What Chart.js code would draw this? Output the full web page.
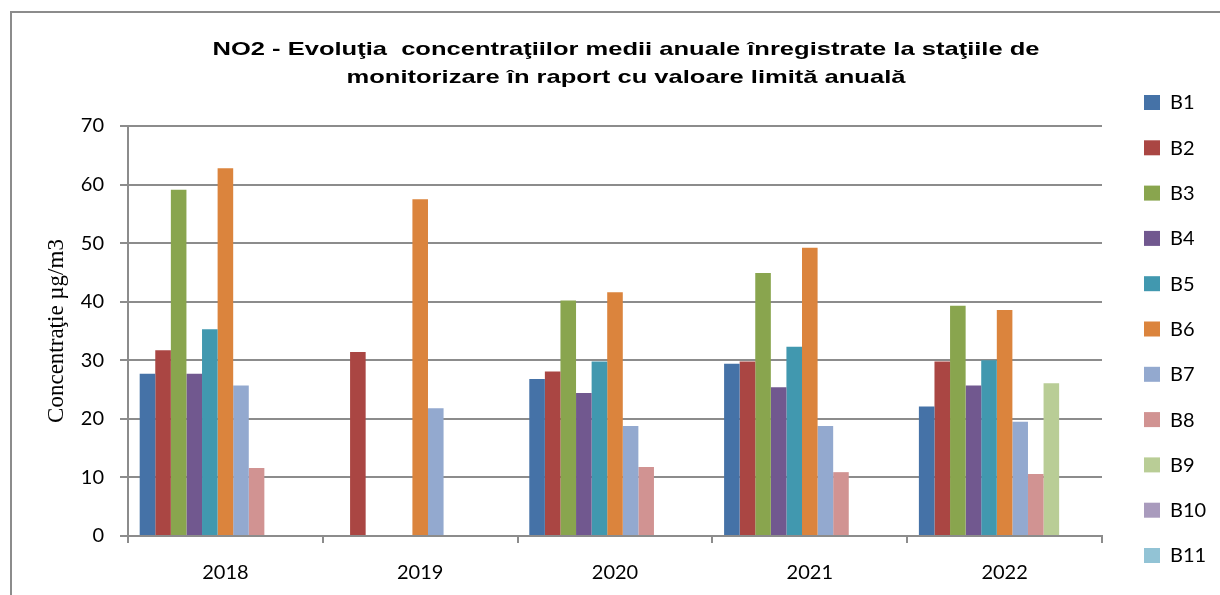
<!DOCTYPE html>
<html>
<head>
<meta charset="utf-8">
<script src="https://cdn.jsdelivr.net/npm/chart.js@4"></script>
<style>
  html, body { margin:0; padding:0; background:#fff; }
  #wrap { position:relative; width:1220px; height:595px; overflow:hidden; }
  #frame { position:absolute; left:10px; top:11px; width:1300px; height:700px; border-left:2px solid #8c8c8c; border-top:2px solid #8c8c8c; }
  canvas { position:absolute; left:0; top:0; }
</style>
</head>
<body>
<div id="wrap">
  <div id="frame"></div>
  <canvas id="c" width="1220" height="595"></canvas>
</div>
<script>
// ---- data ----
const categories = ['2018', '2019', '2020', '2021', '2022'];
const seriesNames = ['B1','B2','B3','B4','B5','B6','B7','B8','B9','B10','B11'];
const B1  = [27.7, null, 26.8, 29.4, 22.1];
const B2  = [31.7, 31.4, 28.1, 29.8, 29.8];
const B3  = [59.1, null, 40.2, 44.9, 39.3];
const B4  = [27.7, null, 24.4, 25.4, 25.7];
const B5  = [35.3, null, 29.8, 32.3, 30.0];
const B6  = [62.8, 57.5, 41.6, 49.2, 38.6];
const B7  = [25.7, 21.8, 18.8, 18.8, 19.5];
const B8  = [11.6, null, 11.8, 10.9, 10.6];
const B9  = [null, null, null, null, 26.1];
const B10 = [null, null, null, null, null];
const B11 = [null, null, null, null, null];
const seriesValues = [B1,B2,B3,B4,B5,B6,B7,B8,B9,B10,B11];
const seriesColors = ['#4572A7','#AA4643','#89A54E','#71588F','#4198AF','#DB843D','#93A9CF','#D19392','#B9CD96','#A99BBD','#92C3D5'];
const yTicks = [0,10,20,30,40,50,60,70];
const titleLines = ['NO2 - Evoluţia  concentraţiilor medii anuale înregistrate la staţiile de', 'monitorizare în raport cu valoare limită anuală'];
const yTitle = 'Concentraţie µg/m3';

const gridColor = '#8c8c8c';

const overlay = {
  id: 'overlay',
  afterDraw(chart) {
    const ctx = chart.ctx;
    ctx.save();
    // title (horizontally widened, as in the reference)
    ctx.fillStyle = '#000';
    ctx.font = 'bold 19px "Liberation Sans", Arial, sans-serif';
    ctx.textAlign = 'center';
    ctx.textBaseline = 'alphabetic';
    const sx = 827 / ctx.measureText(titleLines[0]).width;
    [[titleLines[0], 55], [titleLines[1], 83]].forEach(([t, y]) => {
      ctx.save();
      ctx.translate(626, y);
      ctx.scale(sx, 1);
      ctx.fillText(t, 0, 0);
      ctx.restore();
    });
    // legend
    ctx.font = '20px Lato, sans-serif';
    ctx.textAlign = 'left';
    ctx.textBaseline = 'middle';
    chart.data.datasets.forEach((ds, i) => {
      const cy = 102 + 45.3 * i;
      ctx.fillStyle = ds.backgroundColor;
      ctx.fillRect(1144, cy - 7, 16, 15);
      ctx.fillStyle = '#000';
      ctx.fillText(ds.label, 1170, cy + 1);
    });
    ctx.restore();
  }
};

new Chart(document.getElementById('c'), {
  type: 'bar',
  data: {
    labels: categories,
    datasets: seriesNames.map((n, i) => ({
      label: n,
      data: seriesValues[i],
      backgroundColor: seriesColors[i],
      borderWidth: 0,
      categoryPercentage: 0.88,
      barPercentage: 1.0
    }))
  },
  options: {
    responsive: false,
    animation: false,
    devicePixelRatio: 1,
    layout: { padding: { top: 126, right: 118, bottom: 0, left: 0 } },
    plugins: {
      legend: { display: false },
      title: { display: false },
      tooltip: { enabled: false }
    },
    scales: {
      x: {
        afterFit(scale) { scale.height = 59; },
        grid: { display: true, drawOnChartArea: false, drawTicks: true, tickLength: 7, offset: true, color: gridColor, lineWidth: 2 },
        border: { display: true, color: gridColor, width: 2 },
        ticks: { color: '#000', font: { family: 'Lato', size: 20 }, padding: 18 }
      },
      y: {
        min: 0, max: 70,
        afterFit(scale) { scale.width = 128; },
        afterBuildTicks(scale) { scale.ticks = yTicks.map(v => ({ value: v })); },
        grid: { color: gridColor, lineWidth: 2, tickLength: 8, drawTicks: true },
        border: { display: true, color: gridColor, width: 2 },
        ticks: { color: '#000', font: { family: 'Lato', size: 20 }, padding: 16 },
        title: { display: true, text: yTitle, color: '#000', font: { family: '"Liberation Serif"', size: 23 }, padding: { top: 43, bottom: 0 } }
      }
    }
  },
  plugins: [overlay]
});
</script>
</body>
</html>
